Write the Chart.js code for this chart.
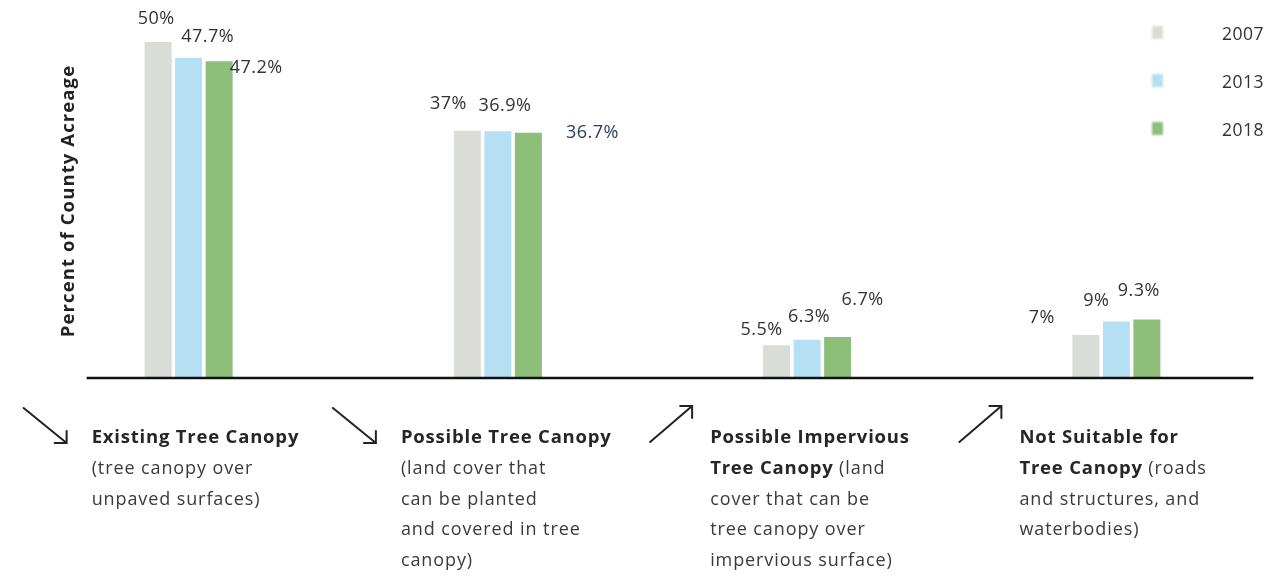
<!DOCTYPE html>
<html>
<head>
<meta charset="utf-8">
<title>Tree canopy land cover, 2007–2018</title>
<script src="https://cdn.jsdelivr.net/npm/chart.js@4/dist/chart.umd.min.js"></script>
<style>
  html, body { margin: 0; padding: 0; background: #ffffff; }
  #wrap { width: 1283px; height: 576px; position: relative; }
</style>
</head>
<body>
<div id="wrap"><canvas id="chart" width="1283" height="576"></canvas></div>
<script>
// ---- data ----
const categories = [
  'Existing Tree Canopy',
  'Possible Tree Canopy',
  'Possible Impervious Tree Canopy',
  'Not Suitable for Tree Canopy'
];
const years = ['2007', '2013', '2018'];
const values2007 = [50, 37, 5.5, 7];
const values2013 = [47.7, 36.9, 6.3, 9];
const values2018 = [47.2, 36.7, 6.7, 9.3];
const axisTitle = 'Percent of County Acreage';

// Category descriptions below the axis: each line is a list of [text, bold] runs
const categoryText = [
  [[['Existing Tree Canopy', true]],
   [['(tree canopy over', false]],
   [['unpaved surfaces)', false]]],
  [[['Possible Tree Canopy', true]],
   [['(land cover that', false]],
   [['can be planted', false]],
   [['and covered in tree', false]],
   [['canopy)', false]]],
  [[['Possible Impervious', true]],
   [['Tree Canopy', true], [' (land', false]],
   [['cover that can be', false]],
   [['tree canopy over', false]],
   [['impervious surface)', false]]],
  [[['Not Suitable for', true]],
   [['Tree Canopy', true], [' (roads', false]],
   [['and structures, and', false]],
   [['waterbodies)', false]]]
];

// ---- styling ----
const seriesValues = [values2007, values2013, values2018];
const seriesColors = ['#d9dcd7', '#b5dff3', '#8dbf7a'];
const FONT = '"Open Sans", "Noto Sans", sans-serif';

// Nudges [dx, dy] for each value label relative to the top centre of its bar
const labelNudges = [
  [[-2, -23], [-19, -27], [-15, -15], [-44, -17]],
  [[19, -21], [7, -25], [2, -23], [-20, -21]],
  [[37, 7], [64, 0], [25, -37], [-8, -29]]
];
const labelColors = [
  ['#333', '#333', '#333', '#333'],
  ['#333', '#333', '#333', '#333'],
  ['#333', '#2b3b5c', '#333', '#333']
];

function setSpacing(ctx, px) {
  if ('letterSpacing' in ctx) ctx.letterSpacing = px + 'px';
}

const annotate = {
  id: 'annotate',
  afterDatasetsDraw(chart) {
    const ctx = chart.ctx;
    const xs = chart.scales.x;
    const area = chart.chartArea;
    ctx.save();

    // baseline
    const firstX = xs.getPixelForValue(0);
    const lastX = xs.getPixelForValue(categories.length - 1);
    ctx.beginPath();
    ctx.moveTo(firstX - 102, area.bottom);
    ctx.lineTo(lastX + 137, area.bottom);
    ctx.lineWidth = 2.5;
    ctx.strokeStyle = '#111';
    ctx.stroke();

    // value labels
    ctx.textAlign = 'center';
    ctx.textBaseline = 'middle';
    ctx.font = '400 18px ' + FONT;
    setSpacing(ctx, 0.5);
    chart.data.datasets.forEach((ds, i) => {
      const meta = chart.getDatasetMeta(i);
      meta.data.forEach((bar, j) => {
        const [dx, dy] = labelNudges[i][j];
        ctx.fillStyle = labelColors[i][j];
        ctx.fillText(ds.data[j] + '%', bar.x + dx, bar.y + dy);
      });
    });

    // y axis title
    ctx.save();
    ctx.translate(69, (area.top + area.bottom) / 2 + 8);
    ctx.rotate(-Math.PI / 2);
    ctx.font = '700 18.5px ' + FONT;
    setSpacing(ctx, 1.1);
    ctx.fillStyle = '#222';
    ctx.fillText(axisTitle, 0, 0);
    ctx.restore();

    // legend
    const lx = chart.width - 131;
    chart.data.datasets.forEach((ds, k) => {
      const cy = 32 + 48 * k;
      ctx.save();
      ctx.filter = 'blur(1px)';
      ctx.fillStyle = ds.backgroundColor;
      ctx.fillRect(lx, cy - 6, 11, 13);
      ctx.restore();
      ctx.font = '400 17.5px ' + FONT;
      setSpacing(ctx, 0.5);
      ctx.textAlign = 'left';
      ctx.fillStyle = '#333';
      ctx.fillText(ds.label, lx + 70, cy + 3);
    });

    // category descriptions with trend arrows
    ctx.textAlign = 'left';
    ctx.textBaseline = 'alphabetic';
    categoryText.forEach((lines, j) => {
      const left = xs.getPixelForValue(j) - 97;
      const top = area.bottom + 65;
      lines.forEach((runs, k) => {
        let x = left;
        const y = top + k * 30.75;
        runs.forEach(([txt, bold]) => {
          ctx.font = (bold ? '700 18.5px ' : '400 18px ') + FONT;
          setSpacing(ctx, bold ? 0.8 : 0.9);
          ctx.fillStyle = bold ? '#262626' : '#3a3a3a';
          ctx.fillText(txt, x, y);
          x += ctx.measureText(txt).width;
        });
      });

      // arrow: down when the share shrank from first to last year, up otherwise
      const falling = values2018[j] < values2007[j];
      ctx.strokeStyle = '#222';
      ctx.lineWidth = 2;
      ctx.lineCap = 'round';
      ctx.beginPath();
      const head = 12;
      if (falling) {
        const x0 = left - 68, y0 = area.bottom + 30, x1 = left - 25, y1 = area.bottom + 65;
        ctx.moveTo(x0, y0); ctx.lineTo(x1, y1);
        ctx.moveTo(x1 - head, y1); ctx.lineTo(x1, y1); ctx.lineTo(x1, y1 - head);
      } else {
        const x0 = left - 60, y0 = area.bottom + 64, x1 = left - 18, y1 = area.bottom + 28;
        ctx.moveTo(x0, y0); ctx.lineTo(x1, y1);
        ctx.moveTo(x1 - head, y1); ctx.lineTo(x1, y1); ctx.lineTo(x1, y1 + head);
      }
      ctx.stroke();
    });

    ctx.restore();
  }
};

new Chart(document.getElementById('chart'), {
  type: 'bar',
  data: {
    labels: categories,
    datasets: years.map((yr, i) => ({
      label: yr,
      data: seriesValues[i],
      backgroundColor: seriesColors[i],
      borderWidth: 0,
      categoryPercentage: 0.296,
      barPercentage: 0.885
    }))
  },
  options: {
    responsive: false,
    animation: false,
    devicePixelRatio: 1,
    layout: { padding: { left: 34, right: 12, top: 8, bottom: 198 } },
    plugins: { legend: { display: false }, tooltip: { enabled: false } },
    scales: {
      x: { display: false },
      y: { display: false, min: 0.7, max: 55 }
    }
  },
  plugins: [annotate]
});
</script>
</body>
</html>
